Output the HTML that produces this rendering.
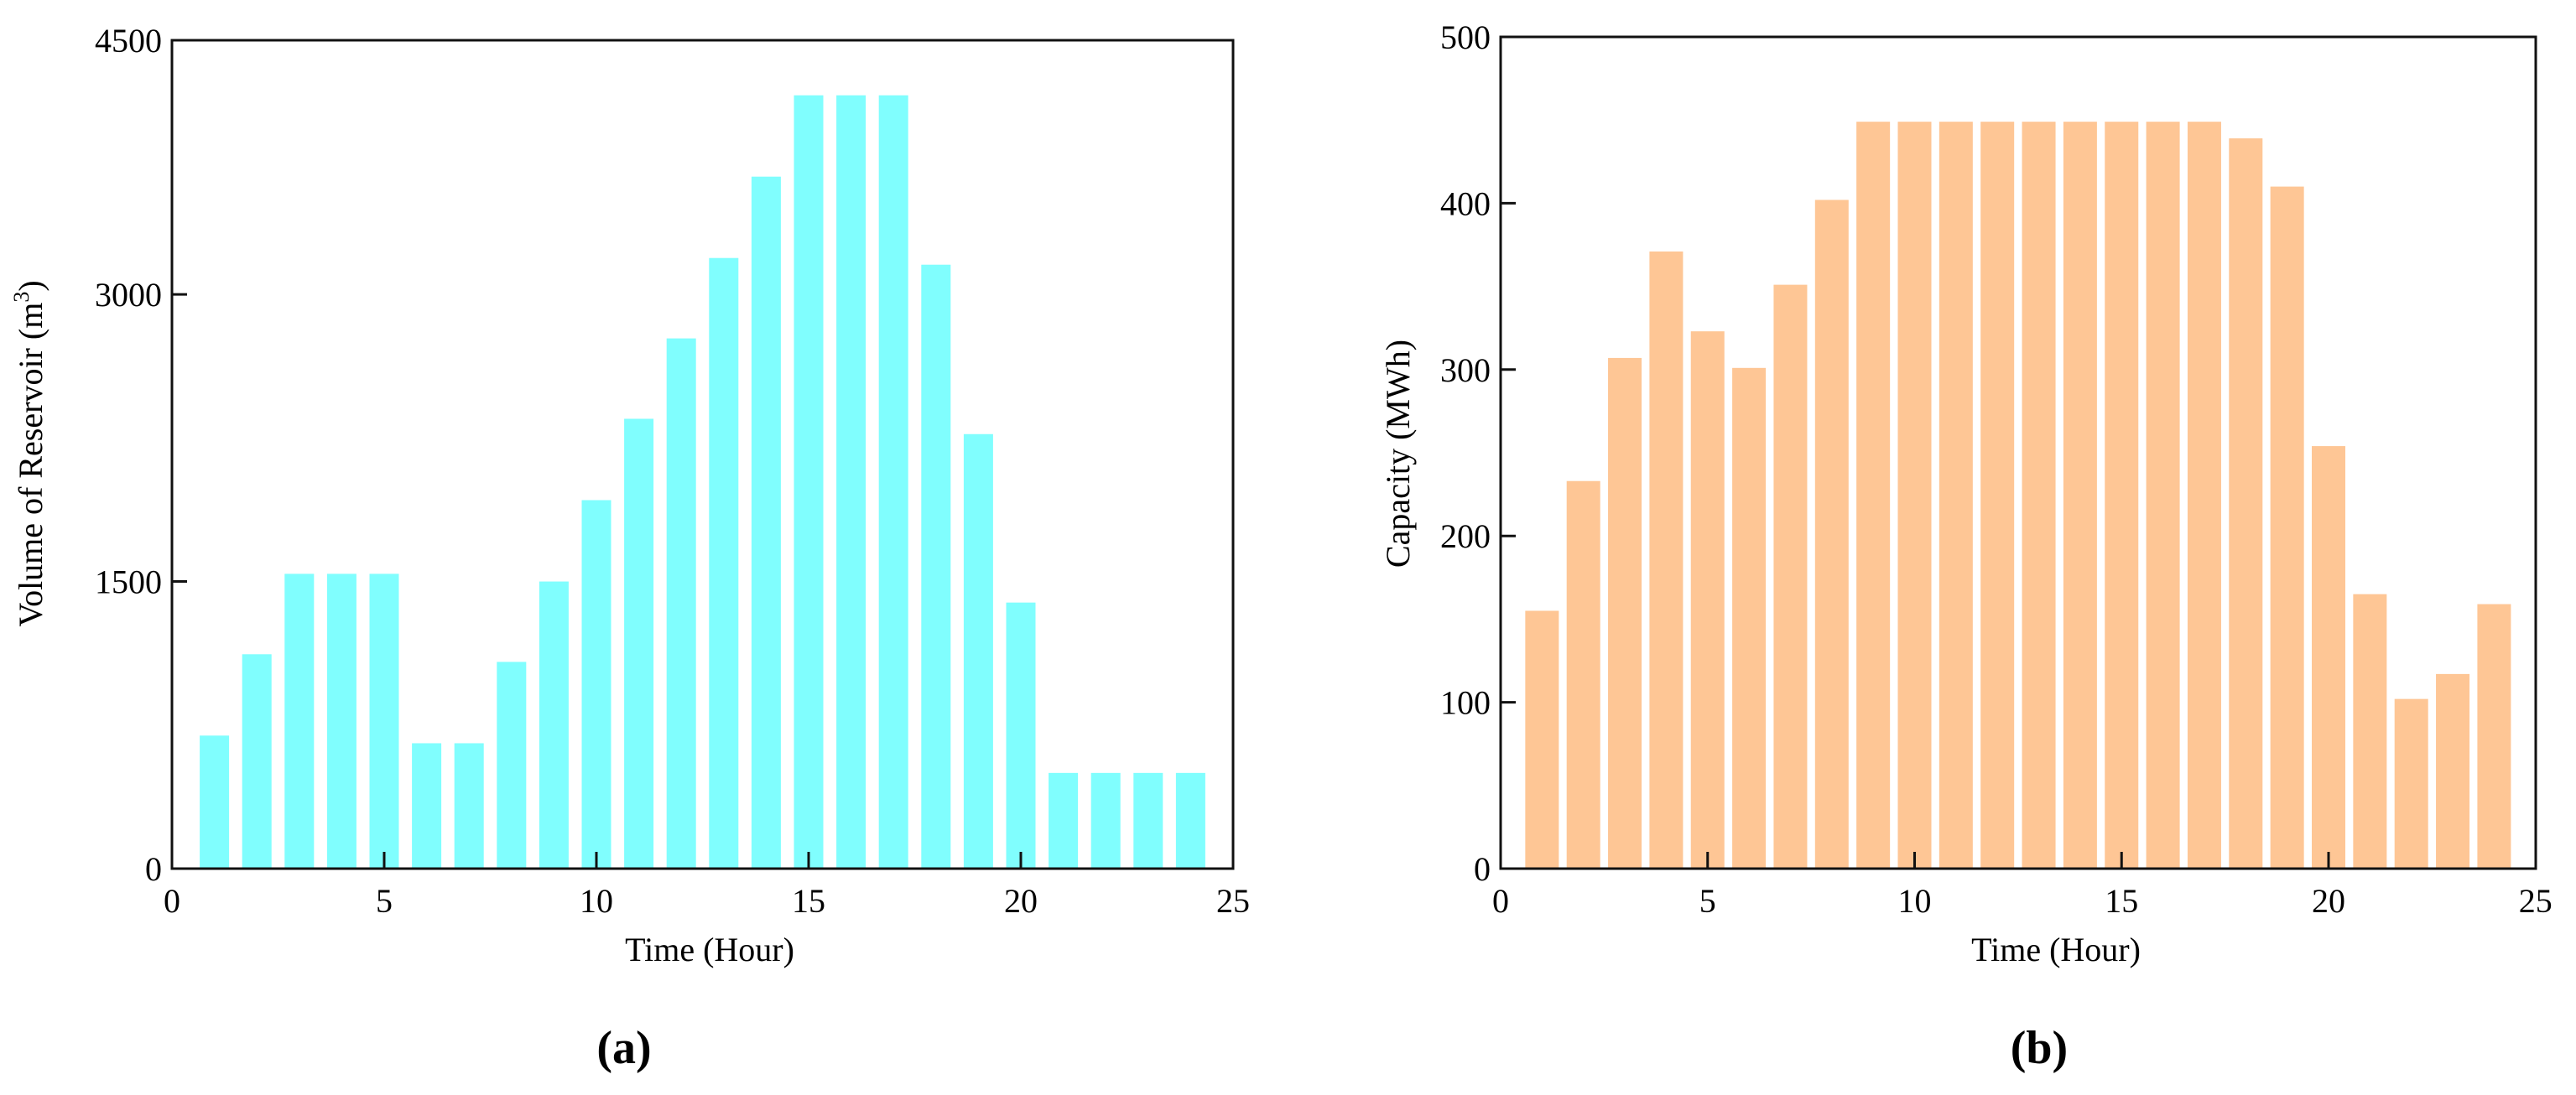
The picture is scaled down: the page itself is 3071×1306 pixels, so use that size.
<!DOCTYPE html>
<html><head><meta charset="utf-8">
<style>
html,body{margin:0;padding:0;background:#fff;}
svg{display:block;}
text{font-family:"Liberation Serif",serif;fill:#000;}
</style></head>
<body>
<svg id="fig" width="3071" height="1306" viewBox="0 0 3071 1306" xmlns="http://www.w3.org/2000/svg">
<rect x="0" y="0" width="3071" height="1306" fill="#fff"/>
<g id="chartA"></g>
<g id="chartB"></g>
<text x="744" y="1268" font-size="56" font-weight="bold" text-anchor="middle">(a)</text>
<text x="2431" y="1268" font-size="56" font-weight="bold" text-anchor="middle">(b)</text>
</svg>
<script>
const hoursA = [1,2,3,4,5,6,7,8,9,10,11,12,13,14,15,16,17,18,19,20,21,22,23,24];
const volumeA = [695,1120,1540,1540,1540,655,655,1080,1500,1925,2350,2770,3190,3615,4040,4040,4040,3155,2270,1390,500,500,500,500];
const yTicksA = [0,1500,3000];
const yTickLabelsA = ["0","1500","3000"];
const xTicks = [0,5,10,15,20,25];
const xTickLabels = ["0","5","10","15","20","25"];

const hoursB = [1,2,3,4,5,6,7,8,9,10,11,12,13,14,15,16,17,18,19,20,21,22,23,24];
const capacityB = [155,233,307,371,323,301,351,402,449,449,449,449,449,449,449,449,449,439,410,254,165,102,117,159];
const yTicksB = [100,200,300,400];
const yTickLabelsB = ["100","200","300","400"];

const NS = "http://www.w3.org/2000/svg";
function mk(parent, tag, attrs, txt){
  const e = document.createElementNS(NS, tag);
  for (const k in attrs) e.setAttribute(k, attrs[k]);
  if (txt !== undefined) e.textContent = txt;
  parent.appendChild(e);
  return e;
}

function drawChart(g, cfg){
  const xs = v => cfg.x0 + v * cfg.xu;
  const ys = v => cfg.yb - v * cfg.yu;
  // bars
  for (let i = 0; i < cfg.cats.length; i++){
    const cx = xs(cfg.cats[i]);
    const top = ys(cfg.vals[i]);
    const r = mk(g, 'rect', {x: cx - cfg.bw/2, y: top, width: cfg.bw, height: cfg.yb - top, fill: cfg.color});
    
    
  }
  // frame
  const fr = mk(g, 'rect', {x: cfg.x0, y: cfg.yt, width: cfg.xr - cfg.x0, height: cfg.yb - cfg.yt, fill: 'none', stroke: '#111', 'stroke-width': 3});
  
  
  // x ticks
  for (let i = 0; i < xTicks.length; i++){
    const x = xs(xTicks[i]);
    if (xTicks[i] > 0 && xTicks[i] < 25){
      const t = mk(g, 'line', {x1: x, x2: x, y1: cfg.yb, y2: cfg.yb - 20, stroke: '#111', 'stroke-width': 3});
      
      
    }
    const l = mk(g, 'text', {x: x, y: cfg.yb + 52, 'font-size': 40, 'text-anchor': 'middle'}, xTickLabels[i]);
    
    
  }
  // y ticks
  for (let i = 0; i < cfg.yTicks.length; i++){
    const y = ys(cfg.yTicks[i]);
    if (cfg.yTicks[i] > 0){
      const t = mk(g, 'line', {x1: cfg.x0, x2: cfg.x0 + 18, y1: y, y2: y, stroke: '#111', 'stroke-width': 3});
      
      
    }
    const l = mk(g, 'text', {x: cfg.x0 - 12, y: y + 14, 'font-size': 40, 'text-anchor': 'end'}, cfg.yTickLabels[i]);
    
    
  }
  const tl = mk(g, 'text', {x: cfg.x0 - 12, y: cfg.yt + 14, 'font-size': 40, 'text-anchor': 'end'}, cfg.topLabel);
  
  
  // titles
  const xt = mk(g, 'text', {x: cfg.xTitleX, y: 1146, 'font-size': 40, 'text-anchor': 'middle'}, 'Time (Hour)');
  
  
  return {xs, ys};
}

const gA = document.getElementById('chartA');
drawChart(gA, {x0:205, xr:1470, xu:50.6, yb:1036, yt:48, yu:0.2283, bw:35, color:'#80fefe',
  cats:hoursA, vals:volumeA, yTicks:yTicksA, yTickLabels:yTickLabelsA, topLabel:'4500', xTitleX:846});
const ytA = mk(gA, 'text', {x:0, y:0, 'font-size':40, 'text-anchor':'middle', transform:'translate(50,541) rotate(-90)'});


ytA.appendChild(document.createTextNode('Volume of Reservoir (m'));
const sup = mk(ytA, 'tspan', {'font-size':26, dy:-16}, '3');
mk(ytA, 'tspan', {dy:16}, ')');

const gB = document.getElementById('chartB');
drawChart(gB, {x0:1789, xr:3023, xu:49.35, yb:1036, yt:44, yu:1.984, bw:40, color:'#fec695',
  cats:hoursB, vals:capacityB, yTicks:[0].concat(yTicksB), yTickLabels:["0"].concat(yTickLabelsB), topLabel:'500', xTitleX:2451});
const ytB = mk(gB, 'text', {x:0, y:0, 'font-size':40, 'text-anchor':'middle', transform:'translate(1680,541) rotate(-90)'}, 'Capacity (MWh)');


</script>
</body></html>
